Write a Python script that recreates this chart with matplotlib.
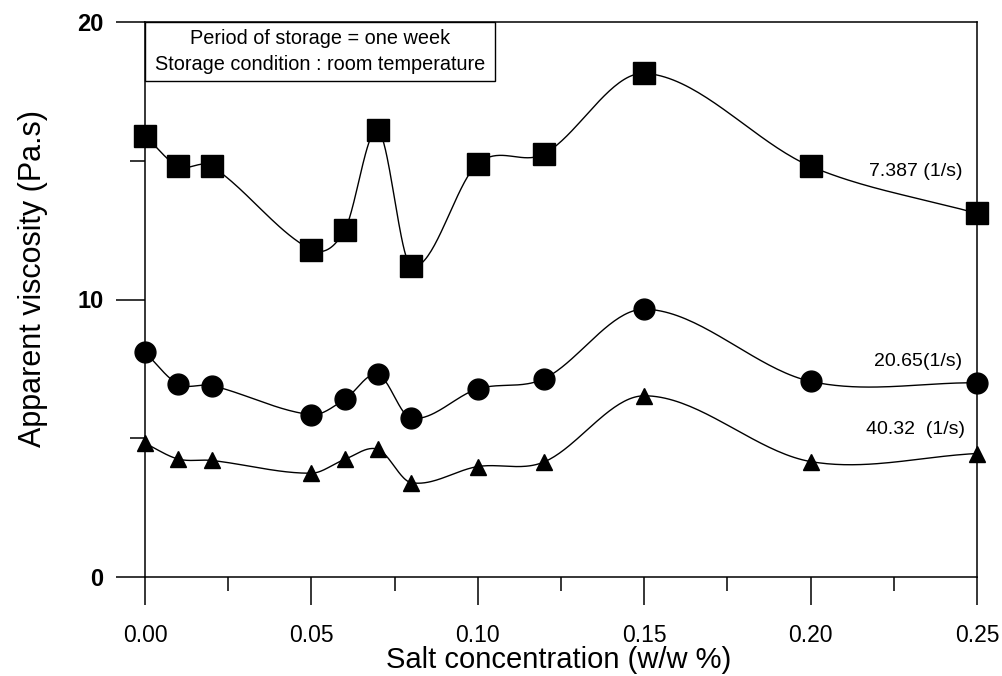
import numpy as np
import matplotlib
matplotlib.use("Agg")
import matplotlib.pyplot as plt
from matplotlib.ticker import MultipleLocator
from matplotlib.patches import Rectangle

plt.rcParams['font.family'] = ['Liberation Sans', 'DejaVu Sans']

salt = [0.00, 0.01, 0.02, 0.05, 0.06, 0.07, 0.08, 0.10, 0.12, 0.15, 0.20, 0.25]
visc_7387 = [15.9, 14.8, 14.8, 11.8, 12.5, 16.1, 11.2, 14.9, 15.25, 18.15, 14.8, 13.1]
visc_2065 = [8.1, 6.95, 6.9, 5.85, 6.4, 7.3, 5.72, 6.78, 7.15, 9.65, 7.05, 7.0]
visc_4032 = [4.82, 4.25, 4.2, 3.74, 4.24, 4.6, 3.4, 3.98, 4.15, 6.53, 4.16, 4.45]
labels = ["7.387 (1/s)", "20.65(1/s)", "40.32  (1/s)"]
xtick_labels = ["0.00", "0.05", "0.10", "0.15", "0.20", "0.25"]
ytick_labels = ["0", "10", "20"]


def smooth(x, y, n=40):
    x = np.asarray(x, float)
    y = np.asarray(y, float)
    m = np.zeros_like(y)
    m[0] = (y[1] - y[0]) / (x[1] - x[0])
    m[-1] = (y[-1] - y[-2]) / (x[-1] - x[-2])
    for i in range(1, len(x) - 1):
        m[i] = (y[i + 1] - y[i - 1]) / (x[i + 1] - x[i - 1])
    xs, ys = [], []
    for i in range(len(x) - 1):
        h = x[i + 1] - x[i]
        t = np.linspace(0, 1, n, endpoint=False)
        h00 = 2 * t**3 - 3 * t**2 + 1
        h10 = t**3 - 2 * t**2 + t
        h01 = -2 * t**3 + 3 * t**2
        h11 = t**3 - t**2
        xs.append(x[i] + t * h)
        ys.append(h00 * y[i] + h10 * h * m[i] + h01 * y[i + 1] + h11 * h * m[i + 1])
    xs.append([x[-1]])
    ys.append([y[-1]])
    return np.concatenate(xs), np.concatenate(ys)


fig = plt.figure(figsize=(10.02, 6.76), dpi=100)
ax = fig.add_axes([145 / 1002, 1 - 577 / 676, (977 - 145) / 1002, (577 - 22) / 676])

for ys, mk, ms in [(visc_7387, 's', 16), (visc_2065, 'o', 15), (visc_4032, '^', 12)]:
    sx, sy = smooth(salt, ys)
    ax.plot(sx, sy, color='black', lw=1.0, zorder=2)
    ax.plot(salt, ys, linestyle='none', marker=mk, ms=ms, color='black', zorder=3, clip_on=False)

ax.set_xlim(0, 0.25)
ax.set_ylim(0, 20)
ax.set_xticks([0, 0.05, 0.10, 0.15, 0.20, 0.25])
ax.set_xticklabels(xtick_labels)
ax.xaxis.set_minor_locator(MultipleLocator(0.025))
ax.set_yticks([0, 10, 20])
ax.set_yticklabels(ytick_labels, fontweight='bold')
ax.yaxis.set_minor_locator(MultipleLocator(5))
ax.tick_params(axis='x', which='major', direction='out', length=20, width=1.1, labelsize=16.5, pad=14)
ax.tick_params(axis='x', which='minor', direction='out', length=10, width=1.1)
ax.tick_params(axis='y', which='major', direction='out', length=21, width=1.1, labelsize=17, pad=9)
ax.tick_params(axis='y', which='minor', direction='out', length=11, width=1.1)
for s in ax.spines.values():
    s.set_linewidth(1.1)

ax.set_xlabel("Salt concentration (w/w %)", fontsize=21)
ax.xaxis.set_label_coords(0.497, -0.124)
ax.set_ylabel("Apparent viscosity (Pa.s)", fontsize=22)
ax.yaxis.set_label_coords(-0.117, 0.538)

box_w = (495 - 145) / 832 * 0.25
box_h = (81 - 22) / 555 * 20
ax.add_patch(Rectangle((0, 20 - box_h), box_w, box_h, fill=True, fc='white', ec='black',
                       lw=1.0, zorder=4, clip_on=False))
ax.text(box_w / 2, 20 - box_h / 2, "Period of storage = one week\nStorage condition : room temperature",
        fontsize=14.3, ha='center', va='center', linespacing=1.4, multialignment='center', zorder=5)

ax.text(0.2455, 14.6, labels[0], fontsize=14, ha='right', va='center')
ax.text(0.2455, 7.75, labels[1], fontsize=14, ha='right', va='center')
ax.text(0.2465, 5.3, labels[2], fontsize=14, ha='right', va='center')

fig.savefig("out.png", dpi=100)
